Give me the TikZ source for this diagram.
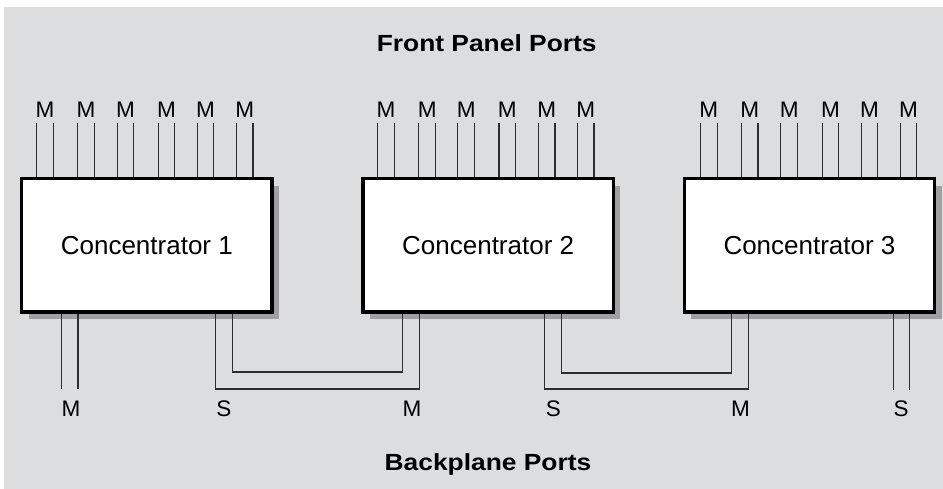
\documentclass[tikz,border=0pt]{standalone}
\usepackage{fontspec}
\usepackage{graphicx}
\setmainfont{Liberation Sans}
\usetikzlibrary{shadows}
\definecolor{bggray}{RGB}{220,221,223}
\definecolor{shadowgray}{RGB}{160,160,164}
\definecolor{wirecol}{RGB}{45,45,45}
\begin{document}
\begin{tikzpicture}[x=0.75pt,y=-0.75pt,
  conc/.style={draw=black, line width=2.5pt, fill=white,
    minimum width=187.9pt, minimum height=100.1pt, inner sep=0pt,
    font=\fontsize{19.5}{22}\selectfont,
    drop shadow={shadow xshift=5.25pt, shadow yshift=-5.25pt, fill=shadowgray, opacity=1}},
  port/.style={inner sep=0pt, anchor=base, font=\fontsize{16.9}{20}\selectfont},
  wire/.style={draw=wirecol, line width=0.8pt},
  titletext/.style={inner sep=0pt, anchor=base, font=\bfseries\fontsize{17.5}{20}\selectfont}]

\useasboundingbox (0,0) rectangle (943,489);
\fill[bggray] (4,7) rectangle (943,489);

% titles
\node[titletext] (front) at (486.7,51.7) {\scalebox{1.13}[1]{Front Panel Ports}};
\node[titletext] (back) at (488,470) {\scalebox{1.13}[1]{Backplane Ports}};

% concentrators
\node[conc] (c1) at (146.85,245.25) {Concentrator 1};
\node[conc] (c2) at (488.15,245.25) {Concentrator 2};
\node[conc] (c3) at (809.5,245.25) {Concentrator 3};

% front panel ports
\foreach \x [count=\i] in {45,86,125.5,166.5,205.5,244.7} {
  \node[port] (ta\i) at (\x,117.7) {M};
  \coordinate (ta\i l) at (\x-8.3,123);
  \coordinate (ta\i r) at (\x+8.3,123);
  \draw[wire] (ta\i l) -- (ta\i l |- c1.north);
  \draw[wire] (ta\i r) -- (ta\i r |- c1.north);
}
\foreach \x [count=\i] in {386,427.2,466.2,507.3,546.7,585.7} {
  \node[port] (tb\i) at (\x,117.7) {M};
  \coordinate (tb\i l) at (\x-8.3,123);
  \coordinate (tb\i r) at (\x+8.3,123);
  \draw[wire] (tb\i l) -- (tb\i l |- c2.north);
  \draw[wire] (tb\i r) -- (tb\i r |- c2.north);
}
\foreach \x [count=\i] in {708.8,749.7,789.2,830.5,869.5,908.5} {
  \node[port] (tc\i) at (\x,117.7) {M};
  \coordinate (tc\i l) at (\x-8.3,123);
  \coordinate (tc\i r) at (\x+8.3,123);
  \draw[wire] (tc\i l) -- (tc\i l |- c3.north);
  \draw[wire] (tc\i r) -- (tc\i r |- c3.north);
}

% backplane ports
\node[port] (b1) at (71,416.7) {M};
\node[port] (b2) at (223.8,416.7) {S};
\node[port] (b3) at (412,416.7) {M};
\node[port] (b4) at (553.5,416.7) {S};
\node[port] (b5) at (740.5,416.7) {M};
\node[port] (b6) at (901.2,416.7) {S};

% Concentrator 1 backplane M
\coordinate (b1l) at (61.7,389);
\coordinate (b1r) at (78,389);
\draw[wire] (b1l |- c1.south) -- (b1l);
\draw[wire] (b1r |- c1.south) -- (b1r);

% Concentrator 1 S to Concentrator 2 M
\coordinate (l1o) at (215.3,389);
\coordinate (r1o) at (419.3,389);
\coordinate (l1i) at (232.3,372);
\coordinate (r1i) at (402.7,372);
\draw[wire] (l1o |- c1.south) -- (l1o) -- (r1o) -- (r1o |- c2.south);
\draw[wire] (l1i |- c1.south) -- (l1i) -- (r1i) -- (r1i |- c2.south);

% Concentrator 2 S to Concentrator 3 M
\coordinate (l2o) at (544.3,389);
\coordinate (r2o) at (748.3,389);
\coordinate (l2i) at (561.3,373);
\coordinate (r2i) at (731.7,373);
\draw[wire] (l2o |- c2.south) -- (l2o) -- (r2o) -- (r2o |- c3.south);
\draw[wire] (l2i |- c2.south) -- (l2i) -- (r2i) -- (r2i |- c3.south);

% Concentrator 3 backplane S
\coordinate (b6l) at (893.3,390);
\coordinate (b6r) at (909.3,390);
\draw[wire] (b6l |- c3.south) -- (b6l);
\draw[wire] (b6r |- c3.south) -- (b6r);
\end{tikzpicture}
\end{document}
